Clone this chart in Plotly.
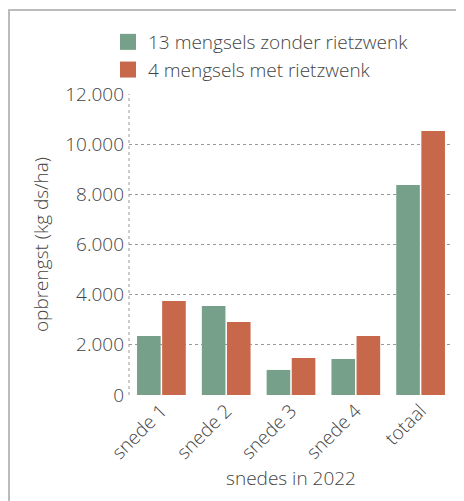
import plotly.graph_objects as go

categories = ["snede 1", "snede 2", "snede 3", "snede 4", "totaal"]
zonder = [2350, 3550, 1000, 1435, 8370]
met = [3750, 2910, 1475, 2350, 10525]
series_names = ["13 mengsels zonder rietzwenk", "4 mengsels met rietzwenk"]
y_ticks = [0, 2000, 4000, 6000, 8000, 10000, 12000]
y_ticktext = ["0", "2.000", "4.000", "6.000", "8.000", "10.000", "12.000"]

FONT = "Open Sans"
TXT = "#444444"
FS = 19
OFF = 8  # page body margin
COLORS = ["#76A08A", "#C8684A"]

fig = go.Figure()
for name, vals, col in zip(series_names, [zonder, met], COLORS):
    fig.add_trace(go.Bar(x=categories, y=vals, name=name, showlegend=False,
                         legendgroup=name,
                         marker=dict(color=col, line=dict(width=0))))
for name, col in zip(series_names, COLORS):
    fig.add_trace(go.Scatter(x=[None], y=[None], mode="markers", name=name,
                             legendgroup=name,
                             marker=dict(symbol="square", size=17, color=col)))

W, H = 464 - OFF, 501 - OFF
L, R, T, B = 129 - OFF, 11, 94 - OFF, 106
pw, ph = W - L - R, H - T - B

def px_x(p):
    return (p - OFF - L) / pw

def px_y(p):
    return (H - B - (p - OFF)) / ph

fnt = dict(family=FONT, size=FS, color=TXT, weight=300)

fig.update_layout(
    width=W, height=H,
    margin=dict(l=L, r=R, t=T, b=B, autoexpand=False),
    paper_bgcolor="white", plot_bgcolor="white",
    font=fnt,
    barmode="group", bargap=0.225, bargroupgap=0.06,
    showlegend=True,
    legend=dict(x=px_x(108), y=px_y(23), xanchor="left", yanchor="top",
                font=fnt, bgcolor="rgba(0,0,0,0)", itemsizing="trace",
                tracegroupgap=0, itemwidth=30),
    xaxis=dict(tickangle=-45, showgrid=False, showline=False, ticks="",
               tickfont=fnt,
               title=dict(text="snedes in 2022", font=fnt, standoff=5)),
    yaxis=dict(range=[0, 12000], tickvals=y_ticks, ticktext=y_ticktext,
               showgrid=True, gridcolor="#999999", griddash="dot", gridwidth=1,
               zeroline=False, showline=False, ticks="", ticklabelstandoff=4,
               tickfont=fnt,
               title=dict(text="opbrengst (kg ds/ha)", font=fnt, standoff=11)),
    shapes=[
        dict(type="line", xref="paper", yref="paper", x0=0, x1=0, y0=0, y1=1,
             line=dict(color="#999999", width=1, dash="dot")),
        dict(type="line", xref="paper", yref="paper", x0=px_x(9), x1=px_x(9),
             y0=px_y(9), y1=px_y(501), line=dict(color="#BBBBBB", width=2)),
        dict(type="line", xref="paper", yref="paper", x0=px_x(8), x1=px_x(464),
             y0=px_y(10), y1=px_y(10), line=dict(color="#BBBBBB", width=2)),
    ],
)

fig.write_html("out.html")
